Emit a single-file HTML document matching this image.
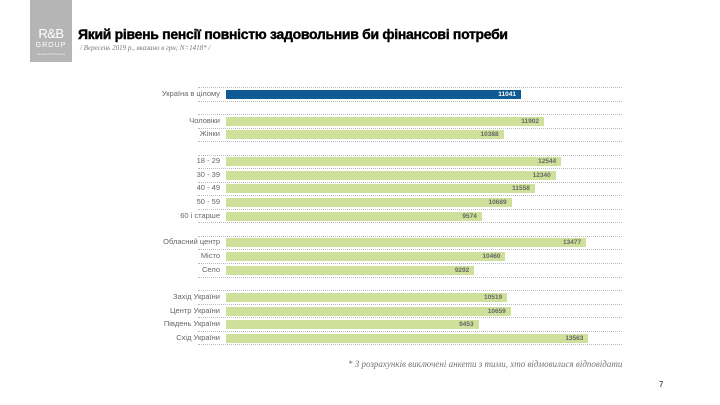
<!DOCTYPE html>
<html><head><meta charset="utf-8"><style>
body{margin:0;width:720px;height:405px;background:#fff;position:relative;overflow:hidden;font-family:"Liberation Sans","Noto Sans CJK SC",sans-serif}
.a{position:absolute}
.lab{position:absolute;right:500px;font-size:7.5px;color:#666;text-align:right;white-space:nowrap;line-height:10px}
.bar{position:absolute;left:226px;height:9px;background:#cfe09a}
.bar span{position:absolute;right:5px;top:0;font-size:6.5px;font-weight:bold;color:#666;line-height:9px}
.ln{position:absolute;left:198px;width:424px;border-top:1px dotted #bbb}
</style></head><body>
<div class="a" style="left:30px;top:0;width:42px;height:62px;background:#b5b5b5"></div>
<div class="a" style="left:31px;top:26px;width:40px;font-size:13px;color:#fff;text-align:center;letter-spacing:-0.5px">R&amp;B</div>
<div class="a" style="left:31px;top:42px;width:40px;font-size:7px;color:#fff;text-align:center;letter-spacing:1px">GROUP</div>
<div class="a" style="left:31px;top:52px;width:40px;font-size:3px;color:#eee;text-align:center">Research &amp; Branding</div>
<div class="a" style="left:78px;top:26px;font-size:14px;font-weight:bold;color:#000;white-space:nowrap;letter-spacing:-0.3px;-webkit-text-stroke:0.4px #000">Який рівень пенсії повністю задовольнив би фінансові потреби</div>
<div class="a" style="left:80px;top:44px;font-size:7px;font-style:italic;color:#777;font-family:'Liberation Serif',serif">/ Вересень 2019 р., вказано в грн; N=1418* /</div>
<div id="c"></div>
<div class="a" style="left:348px;top:359px;font-size:9px;font-style:italic;color:#777;font-family:'Liberation Serif',serif">* З розрахунків виключені анкети з тими, хто відмовилися відповідати</div>
<div class="a" style="left:659px;top:380px;font-size:8px;font-weight:bold;color:#666">7</div>
<script>
var rows=[["Україна в цілому",11041,94],["Чоловіки",11902,121],["Жінки",10388,134],["18 - 29",12544,161],["30 - 39",12340,175],["40 - 49",11558,188],["50 - 59",10689,202],["60 і старше",9574,216],["Обласний центр",13477,242],["Місто",10460,256],["Село",9292,270],["Захід України",10519,297],["Центр України",10659,311],["Південь України",9453,324],["Схід України",13563,338]];
var h="";
rows.forEach(function(r,i){
 var w=r[1]*0.02672;
 h+='<div class="lab" style="top:'+(r[2]-5)+'px">'+r[0]+'</div>';
 h+='<div class="bar" style="top:'+(r[2]-4.5)+'px;width:'+w+'px;'+(i==0?'background:#0f5a93':'')+'"><span style="'+(i==0?'color:#fff':'')+'">'+r[1]+'</span></div>';
});
[87,101,114,128,141,155,168,182,195,209,222,236,249,263,277,290,304,317,331,344].forEach(function(y){h+='<div class="ln" style="top:'+y+'px"></div>';});
document.getElementById("c").innerHTML=h;
</script>
</body></html>
